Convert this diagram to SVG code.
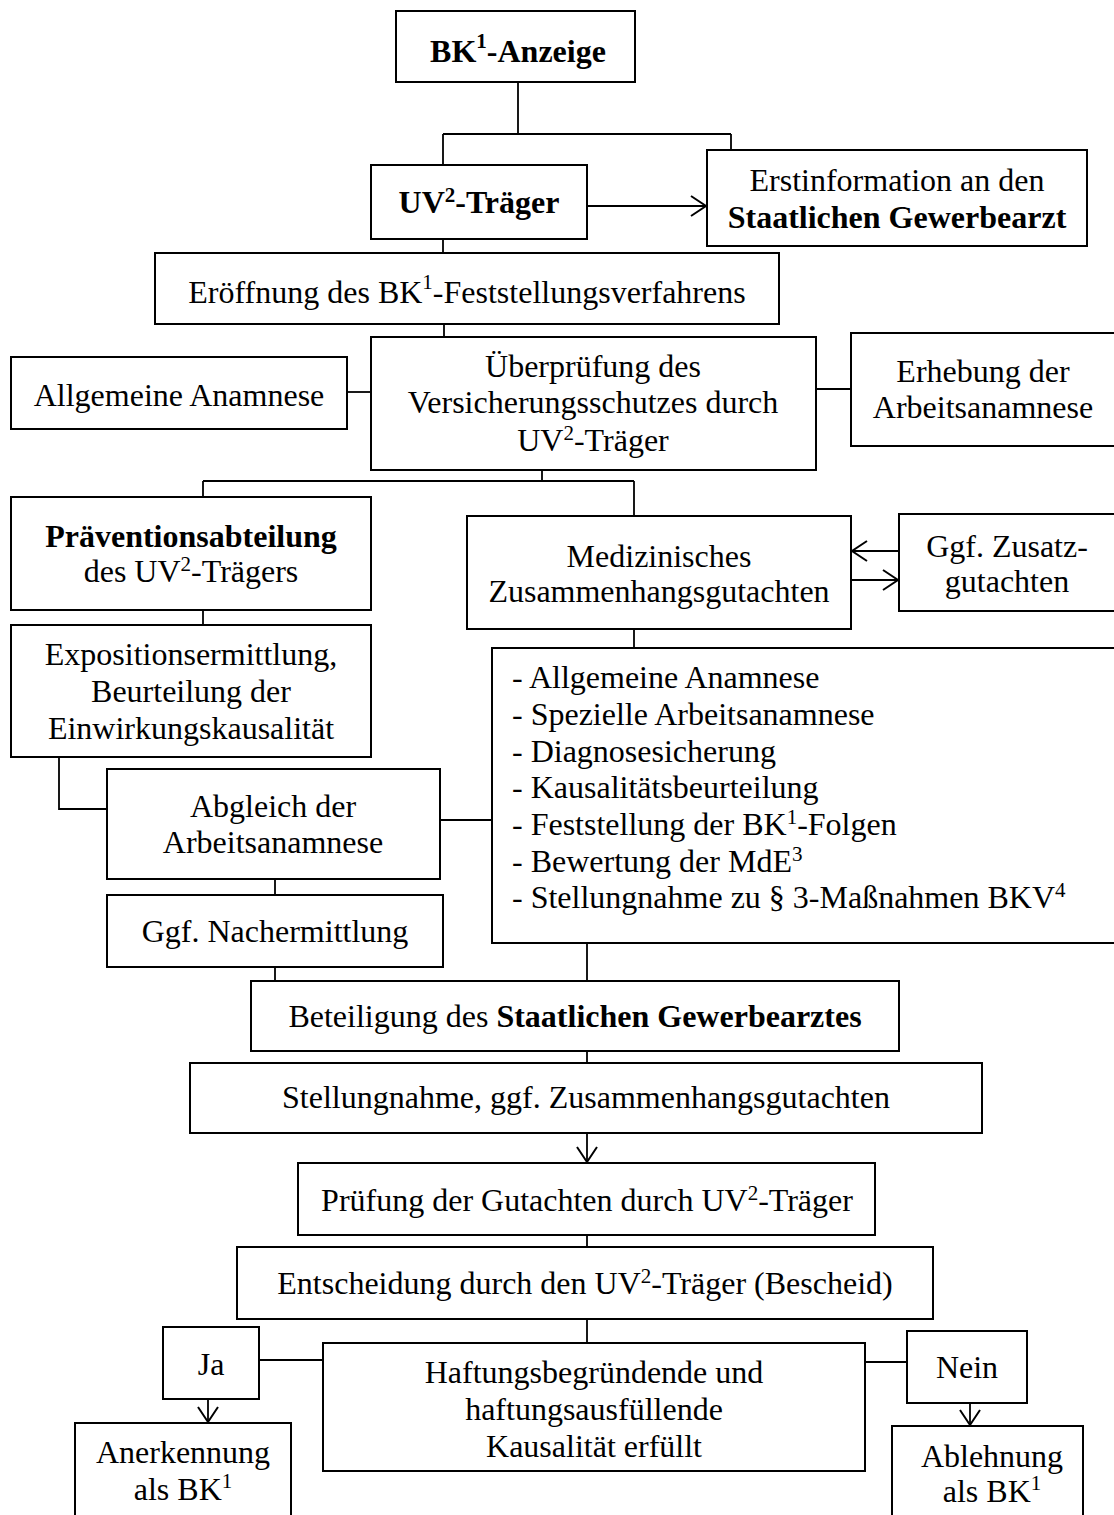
<svg xmlns="http://www.w3.org/2000/svg" width="1114" height="1515" viewBox="0 0 1114 1515">
<style>
rect.box{fill:#fff;stroke:#000;stroke-width:2}
text{font-family:"Liberation Serif","Times New Roman",serif;font-size:32px;fill:#000}
text.c{text-anchor:middle}
.b{font-weight:bold}
.sup{font-size:21px}
#connectors path{fill:none;stroke:#000;stroke-width:1.8}
</style>
<defs>
<marker id="arr" markerUnits="userSpaceOnUse" markerWidth="30" markerHeight="30" viewBox="-20 -15 30 30" refX="0" refY="0" orient="auto">
<path d="M-15,-10 L0,0 L-15,10" fill="none" stroke="#000" stroke-width="2"/>
</marker>
</defs>
<rect width="1114" height="1515" fill="#fff"/>
<g id="connectors">
<path d="M518,82 V134 M443,134 H731 M443,134 V165 M731,134 V150"/>
<path d="M587,206 H706" marker-end="url(#arr)"/>
<path d="M443,239 V253"/>
<path d="M444,324 V337"/>
<path d="M347,392 H371"/>
<path d="M816,389 H851"/>
<path d="M542,470 V481 M203,481 H634 M203,481 V497 M634,481 V516"/>
<path d="M899,551 H852" marker-end="url(#arr)"/>
<path d="M851,580 H898" marker-end="url(#arr)"/>
<path d="M203,610 V625"/>
<path d="M634,629 V648"/>
<path d="M59,757 V809 H107"/>
<path d="M440,820 H492"/>
<path d="M275,879 V895"/>
<path d="M275,967 V981"/>
<path d="M587,943 V981"/>
<path d="M587,1051 V1063"/>
<path d="M587,1133 V1162" marker-end="url(#arr)"/>
<path d="M587,1235 V1247"/>
<path d="M587,1319 V1343"/>
<path d="M259,1360 H323"/>
<path d="M865,1362 H907"/>
<path d="M208,1399 V1422" marker-end="url(#arr)"/>
<path d="M970,1403 V1425" marker-end="url(#arr)"/>
</g>
<g id="bk-anzeige">
<rect class="box" x="396" y="11" width="239" height="71"/>
<text class="c b" x="518" y="62">BK<tspan class="sup" dy="-14">1</tspan><tspan dy="14">-Anzeige</tspan></text>
</g>
<g id="uv-traeger">
<rect class="box" x="371" y="165" width="216" height="74"/>
<text class="c b" x="479" y="213">UV<tspan class="sup" dy="-11">2</tspan><tspan dy="11">-Träger</tspan></text>
</g>
<g id="erstinformation">
<rect class="box" x="707" y="150" width="380" height="96"/>
<text class="c" x="897" y="191">Erstinformation an den</text>
<text class="c b" x="897" y="228">Staatlichen Gewerbearzt</text>
</g>
<g id="eroeffnung">
<rect class="box" x="155" y="253" width="624" height="71"/>
<text class="c" x="467" y="303">Eröffnung des BK<tspan class="sup" dy="-14">1</tspan><tspan dy="14">-Feststellungsverfahrens</tspan></text>
</g>
<g id="allgemeine-anamnese">
<rect class="box" x="11" y="357" width="336" height="72"/>
<text class="c" x="179" y="406">Allgemeine Anamnese</text>
</g>
<g id="ueberpruefung">
<rect class="box" x="371" y="337" width="445" height="133"/>
<text class="c" x="593" y="377">Überprüfung des</text>
<text class="c" x="593" y="413">Versicherungsschutzes durch</text>
<text class="c" x="593" y="451">UV<tspan class="sup" dy="-11">2</tspan><tspan dy="11">-Träger</tspan></text>
</g>
<g id="erhebung">
<rect class="box" x="851" y="333" width="275" height="113"/>
<text class="c" x="983" y="382">Erhebung der</text>
<text class="c" x="983" y="418">Arbeitsanamnese</text>
</g>
<g id="praevention">
<rect class="box" x="11" y="497" width="360" height="113"/>
<text class="c b" x="191" y="547">Präventionsabteilung</text>
<text class="c" x="191" y="582">des UV<tspan class="sup" dy="-11">2</tspan><tspan dy="11">-Trägers</tspan></text>
</g>
<g id="medizinisches">
<rect class="box" x="467" y="516" width="384" height="113"/>
<text class="c" x="659" y="567">Medizinisches</text>
<text class="c" x="659" y="602">Zusammenhangsgutachten</text>
</g>
<g id="zusatzgutachten">
<rect class="box" x="899" y="514" width="227" height="97"/>
<text class="c" x="1007" y="557">Ggf. Zusatz-</text>
<text class="c" x="1007" y="592">gutachten</text>
</g>
<g id="exposition">
<rect class="box" x="11" y="625" width="360" height="132"/>
<text class="c" x="191" y="665">Expositionsermittlung,</text>
<text class="c" x="191" y="702">Beurteilung der</text>
<text class="c" x="191" y="739">Einwirkungskausalität</text>
</g>
<g id="gutachten-inhalte">
<rect class="box" x="492" y="648" width="634" height="295"/>
<text x="512" y="688">- Allgemeine Anamnese</text>
<text x="512" y="725">- Spezielle Arbeitsanamnese</text>
<text x="512" y="762">- Diagnosesicherung</text>
<text x="512" y="798">- Kausalitätsbeurteilung</text>
<text x="512" y="835">- Feststellung der BK<tspan class="sup" dy="-11">1</tspan><tspan dy="11">-Folgen</tspan></text>
<text x="512" y="872">- Bewertung der MdE<tspan class="sup" dy="-11">3</tspan></text>
<text x="512" y="908">- Stellungnahme zu § 3-Maßnahmen BKV<tspan class="sup" dy="-11">4</tspan></text>
</g>
<g id="abgleich">
<rect class="box" x="107" y="769" width="333" height="110"/>
<text class="c" x="273" y="817">Abgleich der</text>
<text class="c" x="273" y="853">Arbeitsanamnese</text>
</g>
<g id="nachermittlung">
<rect class="box" x="107" y="895" width="336" height="72"/>
<text class="c" x="275" y="942">Ggf. Nachermittlung</text>
</g>
<g id="beteiligung">
<rect class="box" x="251" y="981" width="648" height="70"/>
<text class="c" x="575" y="1027">Beteiligung des <tspan class="b">Staatlichen Gewerbearztes</tspan></text>
</g>
<g id="stellungnahme">
<rect class="box" x="190" y="1063" width="792" height="70"/>
<text class="c" x="586" y="1108">Stellungnahme, ggf. Zusammenhangsgutachten</text>
</g>
<g id="pruefung">
<rect class="box" x="298" y="1163" width="577" height="72"/>
<text class="c" x="587" y="1211">Prüfung der Gutachten durch UV<tspan class="sup" dy="-11">2</tspan><tspan dy="11">-Träger</tspan></text>
</g>
<g id="entscheidung">
<rect class="box" x="237" y="1247" width="696" height="72"/>
<text class="c" x="585" y="1294">Entscheidung durch den UV<tspan class="sup" dy="-11">2</tspan><tspan dy="11">-Träger (Bescheid)</tspan></text>
</g>
<g id="kausalitaet">
<rect class="box" x="323" y="1343" width="542" height="128"/>
<text class="c" x="594" y="1383">Haftungsbegründende und</text>
<text class="c" x="594" y="1420">haftungsausfüllende</text>
<text class="c" x="594" y="1457">Kausalität erfüllt</text>
</g>
<g id="ja">
<rect class="box" x="163" y="1327" width="96" height="72"/>
<text class="c" x="211" y="1375">Ja</text>
</g>
<g id="nein">
<rect class="box" x="907" y="1331" width="120" height="72"/>
<text class="c" x="967" y="1378">Nein</text>
</g>
<g id="anerkennung">
<rect class="box" x="75" y="1423" width="216" height="110"/>
<text class="c" x="183" y="1463">Anerkennung</text>
<text class="c" x="183" y="1500">als BK<tspan class="sup" dy="-12">1</tspan></text>
</g>
<g id="ablehnung">
<rect class="box" x="892" y="1426" width="191" height="110"/>
<text class="c" x="992" y="1467">Ablehnung</text>
<text class="c" x="992" y="1502">als BK<tspan class="sup" dy="-12">1</tspan></text>
</g>
</svg>
